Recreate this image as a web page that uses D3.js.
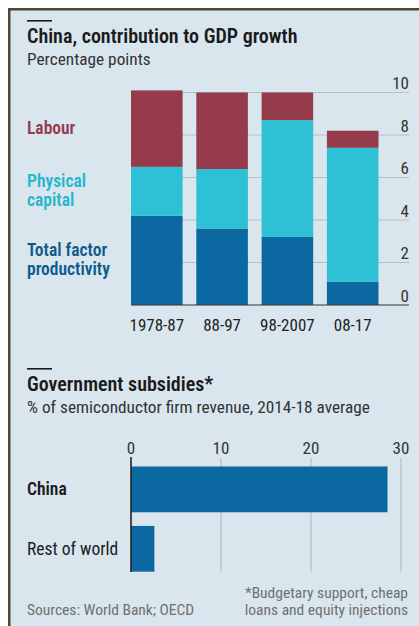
<!DOCTYPE html>
<html><head><meta charset="utf-8">
<script src="https://cdn.jsdelivr.net/npm/d3@7"></script>
<style>
  body { margin: 0; background: #fff; }
  text { font-family: "Roboto Condensed", "Roboto", sans-serif; }
</style></head>
<body><svg id="chart" width="419" height="626"></svg>
<script>
// China, contribution to GDP growth (percentage points)
const periods = ["1978-87", "88-97", "98-2007", "08-17"];
const tfp = [4.2, 3.6, 3.2, 1.1];
const capital = [2.3, 2.8, 5.5, 6.3];
const labour = [3.6, 3.6, 1.3, 0.8];
const yTicks = [0, 2, 4, 6, 8, 10];

// Government subsidies, % of semiconductor firm revenue, 2014-18 average
const regions = ["China", "Rest of world"];
const subsidies = [28.5, 2.6];
const xTicks = [0, 10, 20, 30];

const W = 419, H = 626;
const BG = "#d9e6ee", FRAME = "#4e4935", GRID = "#b3c0c8", INK = "#1b1b1b";
const colors = { tfp: "#0c68a0", capital: "#2ec0d4", labour: "#953b4c" };
const legendColors = { tfp: "#0d5b8b", capital: "#27b6cb", labour: "#953b4c" };

const svg = d3.select("#chart");

// panel and its frame
svg.append("rect").attr("x", 9).attr("y", 9).attr("width", W - 9).attr("height", H - 9).attr("fill", BG);
svg.append("rect").attr("x", 8).attr("y", 8).attr("width", W - 8).attr("height", 2.5).attr("fill", FRAME);
svg.append("rect").attr("x", 8).attr("y", 8).attr("width", 2.5).attr("height", H - 8).attr("fill", FRAME);

function txt(g, s, x, y, o = {}) {
  return g.append("text").attr("x", x).attr("y", y)
    .attr("text-anchor", o.anchor || "start")
    .style("font-size", (o.size || 15) + "px")
    .style("font-weight", o.weight || 400)
    .attr("fill", o.fill || INK)
    .text(s);
}

function heading(y, title, sub) {
  svg.append("rect").attr("x", 27).attr("y", y).attr("width", 25).attr("height", 1.6).attr("fill", INK);
  txt(svg, title, 27, y + 23, { size: 20, weight: 600 });
  txt(svg, sub, 27, y + 45, { size: 17.3, fill: "#333" });
}

// ---- top chart: stacked columns ----
heading(20, "China, contribution to GDP growth", "Percentage points");

const rows = periods.map((p, i) => ({ period: p, tfp: tfp[i], capital: capital[i], labour: labour[i] }));
const keys = ["tfp", "capital", "labour"];
const series = d3.stack().keys(keys)(rows);

const y = d3.scaleLinear().domain([0, 10]).range([305, 92.5]);
const x = d3.scaleBand().domain(periods).range([131, 378.5]).paddingInner(0.21);
const gridRight = 409;

const colG = svg.append("g");
colG.selectAll(".grid").data(yTicks.filter(t => t !== 0)).join("line")
  .attr("x1", 131).attr("x2", gridRight)
  .attr("y1", d => y(d)).attr("y2", d => y(d))
  .attr("stroke", GRID).attr("stroke-width", 1);

colG.selectAll(".layer").data(series).join("g")
  .attr("fill", d => colors[d.key])
  .selectAll("rect").data(d => d).join("rect")
  .attr("x", d => x(d.data.period))
  .attr("width", x.bandwidth())
  .attr("y", d => y(d[1]))
  .attr("height", d => y(d[0]) - y(d[1]));

colG.append("line").attr("x1", 131).attr("x2", gridRight)
  .attr("y1", y(0)).attr("y2", y(0)).attr("stroke", "#333").attr("stroke-width", 1.2);

yTicks.forEach(t => txt(colG, String(t), gridRight, y(t) - 3.5, { anchor: "end", size: 17, fill: "#333" }));
periods.forEach(p => txt(colG, p, x(p) + x.bandwidth() / 2, 331, { anchor: "middle", size: 17, fill: "#222" }));

// legend labels sit beside the middle of each segment of the first column
const legendText = { labour: ["Labour"], capital: ["Physical", "capital"], tfp: ["Total factor", "productivity"] };
series.forEach(s => {
  const mid = (y(s[0][0]) + y(s[0][1])) / 2;
  const lines = legendText[s.key];
  const lh = 19;
  lines.forEach((l, i) => {
    const yy = mid + 5.5 + (i - (lines.length - 1) / 2) * lh;
    txt(colG, l, 27, yy, { size: 17.5, weight: 600, fill: legendColors[s.key] });
  });
});

// ---- bottom chart: horizontal bars ----
heading(368, "Government subsidies*", "% of semiconductor firm revenue, 2014-18 average");

const x2 = d3.scaleLinear().domain([0, 30]).range([131, 401]);
const y2 = d3.scaleBand().domain(regions).range([466.5, 571.7]).paddingInner(0.23);
const barG = svg.append("g");

barG.selectAll(".vgrid").data(xTicks.filter(t => t !== 0)).join("line")
  .attr("x1", d => x2(d)).attr("x2", d => x2(d))
  .attr("y1", 458).attr("y2", 572)
  .attr("stroke", GRID).attr("stroke-width", 1.2);

barG.selectAll(".bar").data(regions).join("rect")
  .attr("x", x2(0))
  .attr("y", d => y2(d))
  .attr("width", (d, i) => x2(subsidies[i]) - x2(0))
  .attr("height", y2.bandwidth())
  .attr("fill", colors.tfp);

barG.append("line").attr("x1", x2(0)).attr("x2", x2(0)).attr("y1", 457).attr("y2", 572)
  .attr("stroke", "#222").attr("stroke-width", 1.6);

xTicks.forEach(t => txt(barG, String(t), x2(t), 454, { anchor: "middle", size: 17, fill: "#333" }));
regions.forEach((r, i) => txt(barG, r, 27, y2(r) + y2.bandwidth() / 2 + 6,
  { size: 17.5, weight: i === 0 ? 600 : 400, fill: INK }));

// ---- footer ----
txt(svg, "Sources: World Bank; OECD", 27, 615, { size: 15.5, fill: "#707070" });
txt(svg, "*Budgetary support, cheap", 408, 598, { anchor: "end", size: 15.5, fill: "#707070" });
txt(svg, "loans and equity injections", 408, 615, { anchor: "end", size: 15.5, fill: "#707070" });
</script></body></html>
